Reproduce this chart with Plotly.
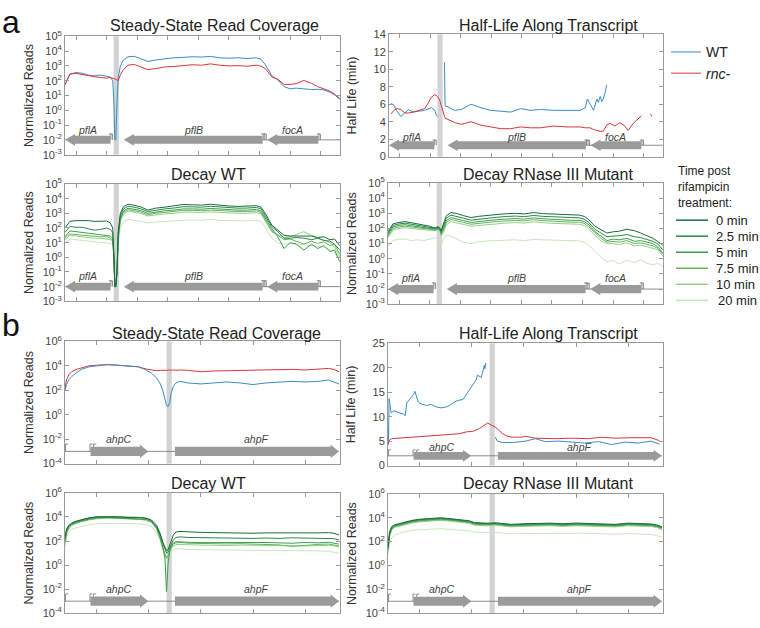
import plotly.graph_objects as go

W, H = 760, 628
FONT = "Liberation Sans, Arial, sans-serif"

# ---------------- locus a : pflA / pflB / focA ----------------
# position along the locus (arbitrary units), shared by read coverage + decay tracks
a_x = [-36, -20, 0, 20, 40, 60, 80, 100, 112, 120, 124, 127, 130, 134, 138, 145, 155, 170, 190, 210,
       235, 260, 290, 320, 350, 380, 410, 440, 470, 500, 530, 560, 590, 605, 620, 640, 660, 680, 700,
       720, 745, 770, 790, 810, 830, 845, 862]

# log10 normalized reads, steady state
a_ss_wt = [1.7, 2.45, 2.55, 2.5, 2.38, 2.33, 2.38, 2.33, 2.25, 2.0, 0.5, -2.0, -2.0, 0.5, 2.2, 3.0, 3.4,
           3.62, 3.65, 3.5, 3.3, 3.4, 3.5, 3.55, 3.58, 3.62, 3.6, 3.64, 3.55, 3.52, 3.55, 3.5, 3.55, 3.45,
           3.05, 2.35, 2.05, 1.6, 1.45, 1.5, 1.45, 1.4, 1.42, 1.38, 1.22, 1.05, 0.75]
a_ss_rnc = [1.75, 2.45, 2.5, 2.45, 2.35, 2.27, 2.22, 2.17, 2.22, 2.18, 2.15, 2.12, 2.1, 2.05, 2.0, 2.4,
            2.75, 3.05, 3.1, 2.95, 2.75, 2.82, 2.93, 2.96, 3.02, 3.08, 3.05, 3.14, 3.05, 3.0, 3.02, 2.98,
            3.05, 2.98, 2.8, 2.25, 2.1, 1.75, 1.75, 1.8, 2.02, 1.82, 1.6, 1.45, 1.3, 1.1, 0.8]

# half-life (min)
a_hl_wt_x = [-29, -20, -10, 3, 16, 27, 43, 59, 81, 103, 114, 119, 123, 130, 146, 148, 157, 168, 179, 201,
             233, 266, 298, 331, 363, 396, 428, 461, 504, 548, 591, 608, 615, 624, 635, 646, 651, 657,
             662, 667, 673, 678]
a_hl_wt = [6.1, 5.9, 5.2, 4.6, 5.0, 5.4, 5.1, 5.2, 5.3, 5.6, 5.3, 4.8, 4.6, None, 10.8, 5.8, 5.7, 5.5, 5.3,
           5.4, 6.0, 5.6, 5.3, 5.2, 5.1, 5.5, 5.3, 5.4, 5.3, 5.3, 5.3, 5.6, 6.6, 6.0, 5.3, 6.6, 6.2, 6.9,
           6.3, 6.6, 7.3, 8.2]
a_hl_rnc_x = [-29, -20, -10, 3, 16, 27, 43, 59, 81, 92, 103, 114, 119, 123, 130, 141, 146, 148, 157, 168,
              179, 201, 233, 266, 298, 331, 363, 396, 428, 461, 504, 548, 591, 608, 624, 635, 646, 657,
              667, 678, 689, 705, 721, 738, 749, 765, 781, 792, 808, 822, 826]
a_hl_rnc = [4.9, 5.3, 5.5, 5.4, 5.0, 5.0, 5.1, 5.3, 5.5, 6.1, 6.8, 7.1, 7.0, 6.9, 6.5, 5.0, 4.6, 4.4, 4.3,
            4.1, 3.9, 3.7, 4.0, 3.6, 3.4, 3.2, 3.2, 3.4, 3.3, 3.3, 3.5, 3.4, 3.4, 3.3, 3.3, 3.1, 3.0, 2.9,
            2.9, 3.6, 3.8, 3.5, 3.9, 3.5, 3.0, 3.8, 4.3, 4.7, None, 4.9, 4.6]

# log10 normalized reads after rifampicin, WT
a_dwt_0 = [2.0, 2.45, 2.5, 2.52, 2.5, 2.45, 2.48, 2.47, 2.35, 2.0, 0.0, -2.0, -2.0, -1.0, 1.8, 3.0, 3.45,
           3.62, 3.55, 3.45, 3.22, 3.35, 3.42, 3.5, 3.6, 3.58, 3.56, 3.62, 3.55, 3.5, 3.47, 3.48, 3.52,
           3.42, 2.95, 2.2, 1.85, 1.5, 1.45, 1.45, 1.4, 1.45, 1.35, 1.4, 1.2, 1.25, 0.8]
a_dwt_2p5 = [1.7, 2.1, 2.05, 2.05, 1.95, 1.85, 1.9, 2.0, 1.9, 1.7, 0.0, -2.0, -2.0, -1.0, 1.6, 2.85, 3.3,
             3.48, 3.42, 3.32, 3.12, 3.22, 3.3, 3.36, 3.45, 3.44, 3.42, 3.48, 3.42, 3.38, 3.35, 3.36, 3.4,
             3.3, 2.8, 2.1, 1.75, 1.3, 1.3, 1.35, 1.3, 1.2, 1.3, 1.15, 1.1, 0.9, 0.5]
a_dwt_5 = [1.4, 1.8, 1.75, 1.7, 1.65, 1.6, 1.55, 1.5, 1.45, 1.3, 0.0, -2.0, -2.0, -1.0, 1.4, 2.7, 3.15,
           3.35, 3.3, 3.2, 3.0, 3.1, 3.17, 3.22, 3.3, 3.3, 3.28, 3.33, 3.28, 3.25, 3.22, 3.22, 3.27, 3.15,
           2.65, 1.95, 1.4, 0.6, 1.0, 0.9, 0.5, 0.9, 0.6, 0.8, 0.4, 0.5, -0.3]
a_dwt_7p5 = [1.3, 1.6, 1.55, 1.5, 1.5, 1.45, 1.4, 1.4, 1.3, 1.15, 0.0, -2.0, -2.0, -1.0, 1.3, 2.6, 3.05,
             3.25, 3.2, 3.1, 2.9, 3.0, 3.06, 3.12, 3.2, 3.2, 3.18, 3.22, 3.17, 3.14, 3.12, 3.12, 3.16, 3.05,
             2.55, 1.8, 1.5, 1.2, 1.25, 1.1, 0.9, 1.1, 0.95, 1.05, 0.8, 0.9, 0.2]
a_dwt_10 = [1.2, 1.5, 1.45, 1.4, 1.35, 1.3, 1.3, 1.25, 1.2, 1.05, 0.0, -2.0, -2.0, -1.0, 1.2, 2.5, 2.95,
            3.15, 3.1, 3.0, 2.82, 2.9, 2.96, 3.0, 3.08, 3.08, 3.06, 3.1, 3.06, 3.03, 3.0, 3.0, 3.05, 2.95,
            2.45, 1.75, 1.55, 1.35, 1.4, 1.55, 1.75, 1.5, 1.3, 1.2, 1.0, 0.7, 0.0]
a_dwt_20 = [1.0, 1.25, 1.2, 1.15, 1.1, 1.1, 1.05, 1.0, 0.95, 0.85, 0.0, -2.0, -2.0, -1.0, 0.9, 2.0, 2.4,
            2.6, 2.55, 2.45, 2.35, 2.42, 2.45, 2.5, 2.55, 2.55, 2.52, 2.58, 2.52, 2.5, 2.48, 2.48, 2.52,
            2.45, 2.0, 1.3, 1.0, 0.9, 0.95, 0.9, 0.85, 0.8, 0.75, 0.7, 0.5, 0.3, -0.2]

# log10 normalized reads after rifampicin, RNase III mutant
a_dmut_0 = [1.8, 2.3, 2.4, 2.45, 2.38, 2.3, 2.25, 2.15, 2.05, 2.05, 2.1, 2.1, 2.1, 2.0, 1.85, 2.3, 2.85,
            3.05, 2.98, 2.85, 2.72, 2.8, 2.88, 2.92, 2.97, 3.0, 2.96, 3.05, 2.98, 2.95, 2.93, 2.88, 2.88,
            2.8, 2.6, 2.15, 1.95, 1.7, 1.78, 1.82, 1.95, 1.85, 1.7, 1.55, 1.35, 1.15, 0.9]
a_dmut_2p5 = [1.7, 2.2, 2.3, 2.35, 2.28, 2.2, 2.15, 2.07, 2.0, 2.0, 2.05, 2.05, 2.05, 1.95, 1.8, 2.15,
              2.68, 2.88, 2.8, 2.68, 2.55, 2.62, 2.7, 2.74, 2.79, 2.82, 2.78, 2.86, 2.8, 2.77, 2.75, 2.7,
              2.7, 2.62, 2.4, 1.95, 1.7, 1.45, 1.5, 1.52, 1.6, 1.45, 1.4, 1.3, 1.15, 1.0, 0.6]
a_dmut_5 = [1.6, 2.1, 2.2, 2.25, 2.18, 2.12, 2.07, 2.0, 1.95, 1.95, 2.0, 2.0, 2.0, 1.9, 1.7, 2.0, 2.52,
            2.72, 2.64, 2.52, 2.4, 2.46, 2.54, 2.58, 2.62, 2.65, 2.62, 2.7, 2.64, 2.6, 2.58, 2.54, 2.54,
            2.46, 2.25, 1.8, 1.5, 1.2, 1.3, 1.25, 1.35, 1.15, 1.2, 1.1, 1.0, 0.8, 0.4]
a_dmut_7p5 = [1.5, 2.0, 2.1, 2.15, 2.1, 2.05, 2.0, 1.95, 1.9, 1.9, 1.95, 1.95, 1.95, 1.85, 1.6, 1.9, 2.4,
              2.6, 2.52, 2.4, 2.28, 2.34, 2.42, 2.46, 2.5, 2.53, 2.5, 2.58, 2.52, 2.48, 2.46, 2.42, 2.42,
              2.34, 2.12, 1.7, 1.35, 1.1, 1.15, 1.1, 1.2, 1.0, 1.05, 0.95, 0.85, 0.7, 0.3]
a_dmut_10 = [1.4, 1.9, 2.0, 2.05, 2.0, 1.97, 1.93, 1.9, 1.85, 1.85, 1.9, 1.9, 1.9, 1.8, 1.5, 1.75, 2.25,
             2.45, 2.38, 2.27, 2.15, 2.2, 2.28, 2.32, 2.36, 2.39, 2.36, 2.44, 2.38, 2.34, 2.32, 2.28, 2.28,
             2.2, 1.98, 1.55, 1.2, 1.0, 1.0, 0.95, 1.05, 0.85, 0.9, 0.8, 0.7, 0.6, 0.2]
a_dmut_20 = [0.8, 1.2, 1.3, 1.3, 1.2, 1.25, 1.2, 1.3, 1.35, 1.4, 1.35, 1.3, 1.2, 1.0, 0.9, 1.3, 1.55, 1.5,
             1.3, 1.1, 1.0, 1.12, 1.18, 1.2, 1.22, 1.25, 1.2, 1.28, 1.25, 1.22, 1.2, 1.18, 1.18, 1.1, 0.9,
             0.5, 0.1, -0.2, -0.1, -0.35, -0.1, -0.25, -0.05, -0.3, -0.4, -0.3, -0.5]

a_band = [123, 140]
a_gene_names = ["pflA", "pflB", "focA"]
a_gene_start = [-36, 156, 625]
a_gene_end = [113, 610, 792]
a_gene_strand = [-1, -1, -1]
a_prom_x = [114, 119, 612, 617, 622, 794, 799]

# ---------------- locus b : ahpC / ahpF ----------------
b_x = [-61, -58, -54, -48, -40, -30, -15, 0, 20, 40, 60, 80, 95, 105, 115, 122, 127, 131, 134, 137, 140,
       143, 147, 152, 160, 175, 200, 225, 250, 275, 300, 325, 350, 375, 400, 425, 445, 455, 465]

b_ss_wt = [1.94, 2.47, 2.86, 3.13, 3.4, 3.7, 3.92, 4.0, 4.1, 4.05, 4.0, 3.92, 3.66, 3.4, 3.0, 2.52, 1.94,
           1.28, 0.75, 0.67, 1.0, 1.8, 2.33, 2.6, 2.73, 2.6, 2.52, 2.6, 2.68, 2.6, 2.47, 2.6, 2.68, 2.73,
           2.68, 2.73, 2.84, 2.68, 2.52]
b_ss_rnc = [2.2, 2.86, 3.26, 3.52, 3.7, 3.84, 4.0, 4.05, 4.1, 4.05, 4.0, 3.92, 3.74, 3.66, 3.6, 3.63, 3.66,
            3.63, 3.63, 3.66, 3.66, 3.63, 3.66, 3.63, 3.66, 3.63, 3.52, 3.58, 3.6, 3.66, 3.68, 3.66, 3.74,
            3.71, 3.66, 3.74, 3.79, 3.71, 3.52]

b_hl_wt_x = [-61, -60, -59, -55, -50, -44, -37, -31, -28, -25, -20, -16, -12, -9.5, -6, -3, 3, 13, 22, 32,
             41, 51, 57, 64, 70, 76, 83, 89, 95, 102, 108, 111, 115, 118, 120, 122, 124, 125, 127, 136,
             145, 147, 149, 159, 178, 203, 222, 241, 267, 292, 317, 343, 368, 394, 419, 444, 460]
b_hl_wt = [8.0, 4.5, 13.7, 10.8, 11.2, 11.0, 10.8, 10.5, 10.2, 12.8, 13.5, 14.0, 14.5, 15.2, 14.0, 13.0,
           12.6, 12.3, 12.5, 12.0, 11.8, 12.0, 12.3, 12.8, 13.2, 13.4, 13.5, 14.5, 15.5, 16.5, 17.5, 18.5,
           18.2, 18.0, 18.8, 19.5, 20.5, 19.8, 21.0, None, 5.8, 5.5, 5.0, 4.7, 4.7, 5.0, 5.5, 4.9, 5.0,
           4.8, 4.6, 4.9, 4.3, 4.8, 4.6, 5.0, 4.4]
b_hl_rnc_x = [-61, -58, -54, -40, -25, 0, 25, 50, 75, 90, 102, 115, 127, 130, 137, 146, 152, 158, 168,
              178, 196, 203, 222, 260, 292, 324, 349, 375, 406, 432, 444, 460]
b_hl_rnc = [4.2, 5.2, 5.5, 5.6, 5.7, 5.9, 6.0, 6.3, 6.5, 6.9, 7.0, 7.6, 8.5, 8.7, 8.3, 7.8, 7.2, 6.6,
            6.0, 5.8, 5.8, 6.0, 5.6, 5.5, 5.6, 5.5, 5.8, 5.6, 5.7, 5.6, 5.7, 5.1]

b_dwt_0 = [2.3, 3.0, 3.3, 3.5, 3.65, 3.78, 3.93, 4.02, 4.05, 4.02, 3.98, 3.97, 3.9, 3.75, 3.3, 2.6, 1.9,
           1.5, 1.2, 1.3, 1.6, 2.0, 2.5, 2.75, 2.8, 2.75, 2.72, 2.7, 2.67, 2.7, 2.65, 2.68, 2.67, 2.72,
           2.7, 2.68, 2.7, 2.65, 2.5]
b_dwt_2p5 = [2.2, 2.9, 3.25, 3.45, 3.62, 3.75, 3.9, 4.0, 4.03, 4.0, 3.96, 3.95, 3.88, 3.7, 3.2, 2.5, 1.8,
             1.3, 1.0, 1.1, 1.4, 1.8, 2.1, 2.3, 2.35, 2.3, 2.28, 2.25, 2.22, 2.26, 2.22, 2.25, 2.22, 2.27,
             2.25, 2.22, 2.26, 2.2, 2.1]
b_dwt_5 = [2.0, 2.8, 3.2, 3.4, 3.55, 3.68, 3.82, 3.93, 3.97, 3.93, 3.9, 3.88, 3.8, 3.62, 3.1, 2.3, 1.5,
           0.5, -2.2, 0.2, 1.2, 1.6, 1.85, 1.95, 1.95, 1.9, 1.87, 1.88, 1.85, 1.9, 1.86, 1.88, 1.85, 1.82,
           1.88, 1.85, 1.9, 1.85, 1.75]
b_dwt_7p5 = [1.9, 2.7, 3.1, 3.35, 3.5, 3.65, 3.8, 3.9, 3.95, 3.9, 3.87, 3.85, 3.77, 3.6, 3.05, 2.2, 1.4,
             0.9, 0.6, 0.8, 1.2, 1.5, 1.75, 1.85, 1.88, 1.82, 1.78, 1.8, 1.76, 1.78, 1.74, 1.72, 1.68, 1.55,
             1.65, 1.72, 1.75, 1.7, 1.6]
b_dwt_10 = [1.8, 2.6, 3.0, 3.3, 3.45, 3.6, 3.75, 3.85, 3.9, 3.87, 3.84, 3.82, 3.73, 3.55, 3.0, 2.15, 1.3,
            0.8, 0.5, 0.7, 1.1, 1.4, 1.6, 1.7, 1.72, 1.68, 1.66, 1.65, 1.62, 1.66, 1.64, 1.62, 1.6, 1.63,
            1.6, 1.62, 1.65, 1.6, 1.5]
b_dwt_20 = [1.5, 2.3, 2.7, 2.95, 3.1, 3.22, 3.35, 3.45, 3.48, 3.47, 3.45, 3.43, 3.35, 3.2, 2.7, 2.0, 1.3,
            0.9, 0.7, 0.8, 1.0, 1.2, 1.3, 1.35, 1.35, 1.3, 1.28, 1.27, 1.25, 1.28, 1.24, 1.22, 1.25, 1.2,
            1.22, 1.18, 1.15, 1.1, 1.0]

b_dmut_0 = [1.6, 2.8, 3.25, 3.42, 3.5, 3.62, 3.78, 3.88, 3.95, 4.0, 3.92, 3.85, 3.75, 3.6, 3.55, 3.52,
            3.55, 3.55, 3.58, 3.55, 3.57, 3.6, 3.58, 3.55, 3.5, 3.45, 3.5, 3.52, 3.55, 3.5, 3.56, 3.52,
            3.5, 3.45, 3.55, 3.52, 3.48, 3.4, 3.25]
b_dmut_2p5 = [1.5, 2.7, 3.2, 3.38, 3.46, 3.58, 3.74, 3.84, 3.91, 3.95, 3.88, 3.8, 3.7, 3.55, 3.5, 3.48,
              3.5, 3.5, 3.53, 3.5, 3.52, 3.55, 3.53, 3.5, 3.45, 3.4, 3.45, 3.47, 3.5, 3.45, 3.5, 3.47,
              3.45, 3.4, 3.5, 3.47, 3.43, 3.35, 3.2]
b_dmut_5 = [1.4, 2.6, 3.12, 3.32, 3.4, 3.52, 3.68, 3.78, 3.86, 3.9, 3.83, 3.75, 3.65, 3.5, 3.45, 3.43,
            3.45, 3.46, 3.48, 3.46, 3.47, 3.5, 3.48, 3.45, 3.4, 3.36, 3.4, 3.42, 3.45, 3.4, 3.45, 3.42,
            3.4, 3.35, 3.45, 3.42, 3.38, 3.3, 3.15]
b_dmut_7p5 = [1.3, 2.5, 3.05, 3.27, 3.35, 3.47, 3.63, 3.73, 3.81, 3.85, 3.78, 3.7, 3.6, 3.45, 3.4, 3.38,
              3.4, 3.41, 3.43, 3.41, 3.42, 3.45, 3.43, 3.4, 3.35, 3.31, 3.35, 3.37, 3.4, 3.35, 3.4, 3.37,
              3.35, 3.3, 3.4, 3.37, 3.33, 3.25, 3.1]
b_dmut_10 = [1.2, 2.4, 2.98, 3.2, 3.28, 3.4, 3.56, 3.66, 3.74, 3.78, 3.71, 3.63, 3.53, 3.38, 3.33, 3.31,
             3.33, 3.34, 3.36, 3.34, 3.35, 3.38, 3.36, 3.33, 3.28, 3.24, 3.28, 3.3, 3.33, 3.28, 3.33, 3.3,
             3.28, 3.23, 3.33, 3.3, 3.26, 3.18, 3.0]
b_dmut_20 = [0.9, 1.8, 2.3, 2.55, 2.7, 2.82, 2.95, 3.0, 3.05, 3.08, 3.02, 2.97, 2.9, 2.8, 2.75, 2.75,
             2.78, 2.78, 2.8, 2.78, 2.78, 2.8, 2.78, 2.75, 2.72, 2.65, 2.68, 2.7, 2.72, 2.68, 2.7, 2.7,
             2.68, 2.62, 2.68, 2.65, 2.6, 2.5, 2.4]

b_band = [134, 144]
b_gene_names = ["ahpC", "ahpF"]
b_gene_start = [-12, 150]
b_gene_end = [99, 465]
b_gene_strand = [1, 1]
b_prom_x = [-60, -13, -6]

time_labels = ["0 min", "2.5 min", "5 min", "7.5 min", "10 min", "20 min"]
time_colors = ["#1d6a3b", "#2b8747", "#3d9f4e", "#62b65c", "#93cf86", "#c7e6bd"]
key_title = ["Time post", "rifampicin", "treatment:"]
WT_BLUE = "#3b8cc6"
RNC_RED = "#d8363c"
GENE = "#9a9a9a"
BAND = "#d3d3d3"

a_log_ticks = [-3, -2, -1, 0, 1, 2, 3, 4, 5]
b_log_ticks = [-4, -2, 0, 2, 4, 6]


def lin(vals):
    return [None if v is None else 10 ** v for v in vals]


def ax_names(i):
    return ("x" if i == 1 else f"x{i}"), ("y" if i == 1 else f"y{i}")


fig = go.Figure()


def add_line(i, x, y, color, name=None, legend=None, log=True):
    xa, ya = ax_names(i)
    fig.add_trace(go.Scatter(
        x=x, y=lin(y) if log else y, mode="lines", xaxis=xa, yaxis=ya,
        line=dict(color=color, width=1), name=name or "",
        showlegend=legend is not None, legend=legend or "legend",
        hoverinfo="skip",
    ))


def add_locus(i, band, names, starts, ends, strands, proms, x_lo, x_hi,
              center, body, head, hlen, label_y, prom_h, prom_len, log):
    xa, ya = ax_names(i)
    conv = (lambda v: 10 ** v) if log else (lambda v: v)
    fig.add_shape(type="rect", xref=xa, yref=f"{ya} domain", x0=band[0], x1=band[1], y0=0, y1=1,
                  fillcolor=BAND, line_width=0, layer="below")
    # thin chromosome line
    fig.add_trace(go.Scatter(x=[x_lo, x_hi], y=[conv(center)] * 2, mode="lines", xaxis=xa, yaxis=ya,
                             line=dict(color="#6e6e6e", width=0.8), showlegend=False, hoverinfo="skip"))
    # promoter marks
    px, py = [], []
    d = strands[0]
    for p in proms:
        px += [p, p, p + d * prom_len, None]
        py += [conv(center), conv(center + prom_h), conv(center + prom_h), None]
    fig.add_trace(go.Scatter(x=px, y=py, mode="lines", xaxis=xa, yaxis=ya,
                             line=dict(color="#6e6e6e", width=0.8), showlegend=False, hoverinfo="skip"))
    for name, s, e, st in zip(names, starts, ends, strands):
        tip, back = (s, e) if st < 0 else (e, s)
        neck = tip - st * hlen
        gx = [back, neck, neck, tip, neck, neck, back, back]
        gy = [center + body, center + body, center + head, center, center - head, center - body,
              center - body, center + body]
        fig.add_trace(go.Scatter(x=gx, y=[conv(v) for v in gy], mode="lines", fill="toself",
                                 fillcolor=GENE, line=dict(width=0, color=GENE), xaxis=xa, yaxis=ya,
                                 showlegend=False, hoverinfo="skip"))
        fig.add_annotation(x=(s + e) / 2, y=label_y, xref=xa, yref=ya, text=f"<i>{name}</i>",
                           showarrow=False, font=dict(size=10.5, color="#444", family=FONT))


# ---- panel a ----
add_locus(1, a_band, a_gene_names, a_gene_start, a_gene_end, a_gene_strand, a_prom_x, 600, 862,
          -2.0, 0.27, 0.4, 33, -1.3, 0.4, 7, True)
add_line(1, a_x, a_ss_wt, WT_BLUE)
add_line(1, a_x, a_ss_rnc, RNC_RED)

add_locus(2, a_band, a_gene_names, a_gene_start, a_gene_end, a_gene_strand, a_prom_x, 600, 862,
          1.3, 0.45, 0.65, 33, 2.3, 0.6, 7, False)
add_line(2, a_hl_wt_x, a_hl_wt, WT_BLUE, "WT", "legend", log=False)
add_line(2, a_hl_rnc_x, a_hl_rnc, RNC_RED, "<i>rnc-</i>", "legend", log=False)

a_dwt = [a_dwt_0, a_dwt_2p5, a_dwt_5, a_dwt_7p5, a_dwt_10, a_dwt_20]
a_dmut = [a_dmut_0, a_dmut_2p5, a_dmut_5, a_dmut_7p5, a_dmut_10, a_dmut_20]
add_locus(3, a_band, a_gene_names, a_gene_start, a_gene_end, a_gene_strand, a_prom_x, 600, 862,
          -2.0, 0.27, 0.4, 33, -1.3, 0.4, 7, True)
add_locus(4, a_band, a_gene_names, a_gene_start, a_gene_end, a_gene_strand, a_prom_x, 600, 862,
          -2.0, 0.27, 0.4, 33, -1.3, 0.4, 7, True)
for k in range(5, -1, -1):
    add_line(3, a_x, a_dwt[k], time_colors[k])
    add_line(4, a_x, a_dmut[k], time_colors[k])

# ---- panel b ----
add_locus(5, b_band, b_gene_names, b_gene_start, b_gene_end, b_gene_strand, b_prom_x, -61, 465,
          -3.0, 0.38, 0.55, 16, -2.0, 0.6, 5, True)
add_line(5, b_x, b_ss_rnc, RNC_RED)
add_line(5, b_x, b_ss_wt, WT_BLUE)

add_locus(6, b_band, b_gene_names, b_gene_start, b_gene_end, b_gene_strand, b_prom_x, -61, 465,
          2.0, 0.8, 1.2, 16, 3.7, 1.2, 5, False)
add_line(6, b_hl_wt_x, b_hl_wt, WT_BLUE, log=False)
add_line(6, b_hl_rnc_x, b_hl_rnc, RNC_RED, log=False)

b_dwt = [b_dwt_0, b_dwt_2p5, b_dwt_5, b_dwt_7p5, b_dwt_10, b_dwt_20]
b_dmut = [b_dmut_0, b_dmut_2p5, b_dmut_5, b_dmut_7p5, b_dmut_10, b_dmut_20]
add_locus(7, b_band, b_gene_names, b_gene_start, b_gene_end, b_gene_strand, b_prom_x, -61, 465,
          -3.0, 0.38, 0.55, 16, -2.0, 0.6, 5, True)
add_locus(8, b_band, b_gene_names, b_gene_start, b_gene_end, b_gene_strand, b_prom_x, -61, 465,
          -3.0, 0.38, 0.55, 16, -2.0, 0.6, 5, True)
for k in range(5, -1, -1):
    add_line(7, b_x, b_dwt[k], time_colors[k])
    add_line(8, b_x, b_dmut[k], time_colors[k])

# ---- axes ----
# (index, left, right, top, bottom) in pixels, y kind
boxes = [
    (1, 65, 340, 29, 150, "a_log"), (2, 389, 663, 27, 152, "a_hl"),
    (3, 65, 340, 180, 300, "a_log"), (4, 388, 663, 179, 303, "a_log"),
    (5, 65, 340, 341, 466, "b_log"), (6, 388, 663, 343, 468, "b_hl"),
    (7, 65, 340, 496, 619, "b_log"), (8, 388, 663, 497, 619, "b_log"),
]
axis_common = dict(showline=True, linecolor="#9a9a9a", linewidth=1, mirror="ticks", ticks="inside",
                   ticklen=4, tickcolor="#9a9a9a", showgrid=False, zeroline=False)
layout = {}
for i, l, r, t, b, kind in boxes:
    xa, ya = ax_names(i)
    xkey = "xaxis" if i == 1 else f"xaxis{i}"
    ykey = "yaxis" if i == 1 else f"yaxis{i}"
    xr = [-36, 863] if kind.startswith("a") else [-61, 467]
    layout[xkey] = dict(domain=[l / W, r / W], range=xr, tick0=0, dtick=100, showticklabels=False,
                        anchor=ya, **axis_common)
    yd = dict(domain=[1 - b / H, 1 - t / H], anchor=xa,
              tickfont=dict(size=11, color="#444", family=FONT),
              title=dict(font=dict(size=12.5, color="#333", family=FONT), standoff=6), **axis_common)
    if kind == "a_log":
        yd.update(type="log", range=[-3, 5], tickvals=[10 ** e for e in a_log_ticks],
                  ticktext=[f"10<sup>{e}</sup>" for e in a_log_ticks], title_text="Normalized Reads")
    elif kind == "b_log":
        yd.update(type="log", range=[-4, 6], tickvals=[10 ** e for e in b_log_ticks],
                  ticktext=[f"10<sup>{e}</sup>" for e in b_log_ticks], title_text="Normalized Reads")
    elif kind == "a_hl":
        yd.update(range=[0, 14], dtick=2, title_text="Half Life (min)", title_standoff=14)
    else:
        yd.update(range=[0, 25], dtick=5, title_text="Half Life (min)", title_standoff=14)
    layout[ykey] = yd

fig.update_layout(
    width=W, height=H, margin=dict(l=0, r=0, t=0, b=0),
    paper_bgcolor="white", plot_bgcolor="white",
    font=dict(family=FONT, color="#222"),
    showlegend=True,
    legend=dict(x=666 / W, y=1 - 29 / H, xanchor="left", yanchor="top", bgcolor="rgba(0,0,0,0)",
                font=dict(size=14, color="#222"), tracegroupgap=0),
    **layout,
)

titles = [
    ("Steady-State Read Coverage", 214, 18), ("Half-Life Along Transcript", 548, 18),
    ("Decay WT", 208, 170), ("Decay RNase III Mutant", 548, 170),
    ("Steady-State Read Coverage", 216, 333), ("Half-Life Along Transcript", 548, 333),
    ("Decay WT", 208, 486), ("Decay RNase III Mutant", 548, 486),
]
for text, cx, cy in titles:
    fig.add_annotation(x=cx / W, y=1 - cy / H, xref="paper", yref="paper", text=text, showarrow=False,
                       font=dict(size=16, color="#222", family=FONT), xanchor="center", yanchor="middle")
for text, cx, cy in [("a", 11, 14), ("b", 11, 324)]:
    fig.add_annotation(x=cx / W, y=1 - cy / H, xref="paper", yref="paper", text=text, showarrow=False,
                       font=dict(size=32, color="#111", family=FONT), xanchor="center", yanchor="middle")

# time-point key (compact, as in the original figure)
for k, line in enumerate(key_title):
    fig.add_annotation(x=676 / W, y=1 - (167 + 16 * k) / H, xref="paper", yref="paper",
                       xanchor="left", yanchor="middle", text=line, showarrow=False,
                       font=dict(size=12, color="#222", family=FONT))
for k, (lab, col) in enumerate(zip(time_labels, time_colors)):
    yk = 1 - (217 + 16.4 * k) / H
    fig.add_shape(type="line", xref="paper", yref="paper", x0=676 / W, x1=708 / W, y0=yk, y1=yk,
                  line=dict(color=col, width=1.5))
    fig.add_annotation(x=(714 + (2 if k == 5 else 0)) / W, y=yk, xref="paper", yref="paper",
                       xanchor="left", yanchor="middle", text=lab, showarrow=False,
                       font=dict(size=13, color="#222", family=FONT))

# the page is photographed at exactly the figure size, so drop the default body margin
fig.write_html("out.html", config={"displayModeBar": False},
               post_script="document.body.style.margin='0';")
